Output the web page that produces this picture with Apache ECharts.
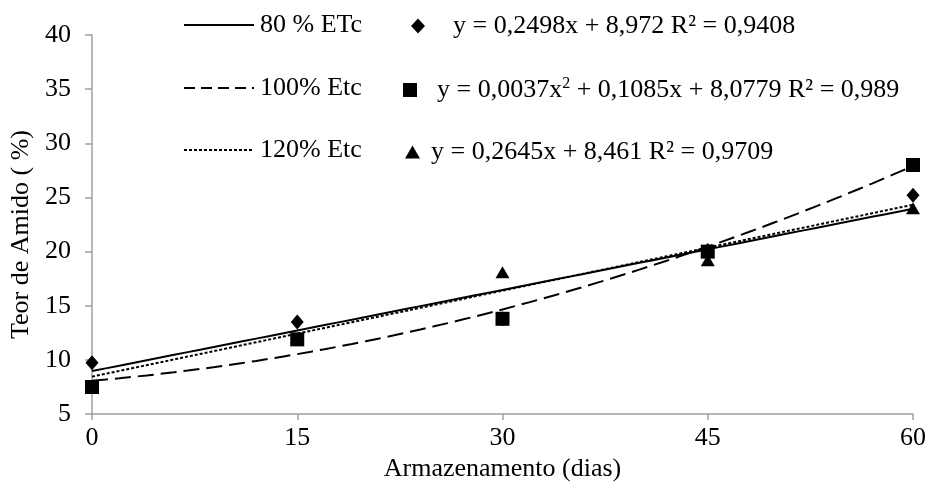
<!DOCTYPE html>
<html>
<head>
<meta charset="utf-8">
<script src="https://cdn.jsdelivr.net/npm/echarts@6/dist/echarts.min.js"></script>
<style>
  html, body { margin: 0; padding: 0; background: #fff; }
  #chart { width: 930px; height: 487px; }
</style>
</head>
<body>
<div id="chart"></div>
<script>
// Storage time (days) and starch content (%) per irrigation level
const dias = [0, 15, 30, 45, 60];
const etc80 = [9.75, 13.5, 13.8, 20.1, 25.2];
const etc100 = [7.5, 11.9, 13.8, 20.0, 28.0];
const etc120 = [7.5, 12.0, 18.1, 19.2, 24.0];

// Trendline coefficients [c0, c1, c2] for y = c0 + c1*x + c2*x^2
const fit80 = [8.972, 0.2498, 0];
const fit100 = [8.0779, 0.1085, 0.0037];
const fit120 = [8.461, 0.2645, 0];

const lineNames = ['80 % ETc', '100% Etc', '120% Etc'];
const eqNames = [
  'y = 0,2498x + 8,972 R² = 0,9408',
  'y = 0,0037x² + 0,1085x + 8,0779 R² = 0,989',
  'y = 0,2645x + 8,461 R² = 0,9709'
];

const yTicks = { min: 5, max: 40, step: 5 };
const xTicks = { min: 0, max: 60, step: 15 };

const FONT = '"Liberation Serif", "Times New Roman", serif';
const FS = 26;

function trend(c) {
  const pts = [];
  for (let x = xTicks.min; x <= xTicks.max; x += 1) {
    pts.push([x, c[0] + c[1] * x + c[2] * x * x]);
  }
  return pts;
}
function pairs(ys) { return dias.map((d, i) => [d, ys[i]]); }

const chart = echarts.init(document.getElementById('chart'), null, { renderer: 'canvas' });

function textStyle(padLeft) {
  return {
    fontFamily: FONT, fontSize: FS, color: '#000', padding: [0, 0, 0, padLeft],
    rich: { sup: { fontFamily: FONT, fontSize: 16, color: '#000', verticalAlign: 'top', padding: [0, 0, 12, 0] } }
  };
}
function eqFormatter(name) { return name.replace('x²', 'x{sup|2}'); }

// legend rows (vertical centres about 25, 88, 150)
const rowsTop = [12, 75, 137];
const legendDash = ['solid', [11, 6], [3, 2]];
const lineLegends = lineNames.map((n, i) => ({
  data: [n], left: 183, top: rowsTop[i], padding: 0, itemWidth: 70, itemHeight: 26, itemGap: 0,
  textStyle: textStyle(1), selectedMode: false,
  itemStyle: { opacity: 0 },
  lineStyle: { type: legendDash[i], width: 2, color: '#000' }
}));
const eqLeft = [411, 403, 405];
const eqW = [14, 14, 15];
const eqH = [15, 14, 13];
const eqPad = [23, 15, 6];
const eqTop = [13, 76, 139];
const eqLegends = eqNames.map((n, i) => ({
  data: [n], left: eqLeft[i], top: eqTop[i], padding: 0, itemWidth: eqW[i], itemHeight: eqH[i],
  itemGap: 0, textStyle: textStyle(eqPad[i]), selectedMode: false, formatter: eqFormatter,
  itemStyle: { opacity: 1, color: '#000' }
}));

const lineStyles = [
  { type: 'solid', width: 2 },
  { type: [16, 7], width: 2 },
  { type: [3, 2], width: 2 }
];
const fits = [fit80, fit100, fit120];
const symbols = ['diamond', 'rect', 'triangle'];
const sizes = [[13, 15], 14, [14, 12]];
const values = [etc80, etc100, etc120];

const series = [];
// markers: triangles first, then squares, diamonds on top
[2, 1, 0].forEach(i => {
  series.push({
    name: eqNames[i], type: 'scatter', data: pairs(values[i]),
    symbol: symbols[i], symbolSize: sizes[i],
    itemStyle: { color: '#000', opacity: 1 }, z: 2
  });
});
fits.forEach((c, i) => {
  series.push({
    name: lineNames[i], type: 'line', data: trend(c), showSymbol: false, symbol: 'none',
    lineStyle: Object.assign({ color: '#000' }, lineStyles[i]),
    itemStyle: { color: '#000', opacity: 0 }, z: 3, silent: true
  });
});

chart.setOption({
  animation: false,
  backgroundColor: '#fff',
  legend: lineLegends.concat(eqLegends),
  grid: { left: 92, right: 17, top: 35, bottom: 70 },
  xAxis: {
    type: 'value', min: xTicks.min, max: xTicks.max, interval: xTicks.step,
    name: 'Armazenamento (dias)', nameLocation: 'middle', nameGap: 34,
    nameTextStyle: { fontFamily: FONT, fontSize: FS, color: '#000' },
    axisLine: { lineStyle: { color: '#a0a0a0', width: 1.5 } },
    axisTick: { show: true, length: 6, lineStyle: { color: '#a0a0a0', width: 1.5 } },
    axisLabel: { fontFamily: FONT, fontSize: FS, color: '#000', margin: 11 },
    splitLine: { show: false }
  },
  yAxis: {
    type: 'value', min: yTicks.min, max: yTicks.max, interval: yTicks.step,
    name: 'Teor de Amido ( %)', nameLocation: 'middle', nameGap: 57,
    nameTextStyle: { fontFamily: FONT, fontSize: FS, color: '#000', padding: [0, 20, 0, 0] },
    axisLine: { show: true, lineStyle: { color: '#a0a0a0', width: 1.5 } },
    axisTick: { show: true, length: 7, lineStyle: { color: '#a0a0a0', width: 1.5 } },
    axisLabel: { fontFamily: FONT, fontSize: FS, color: '#000', margin: 21 },
    splitLine: { show: false }
  },
  series: series
});
</script>
</body>
</html>
